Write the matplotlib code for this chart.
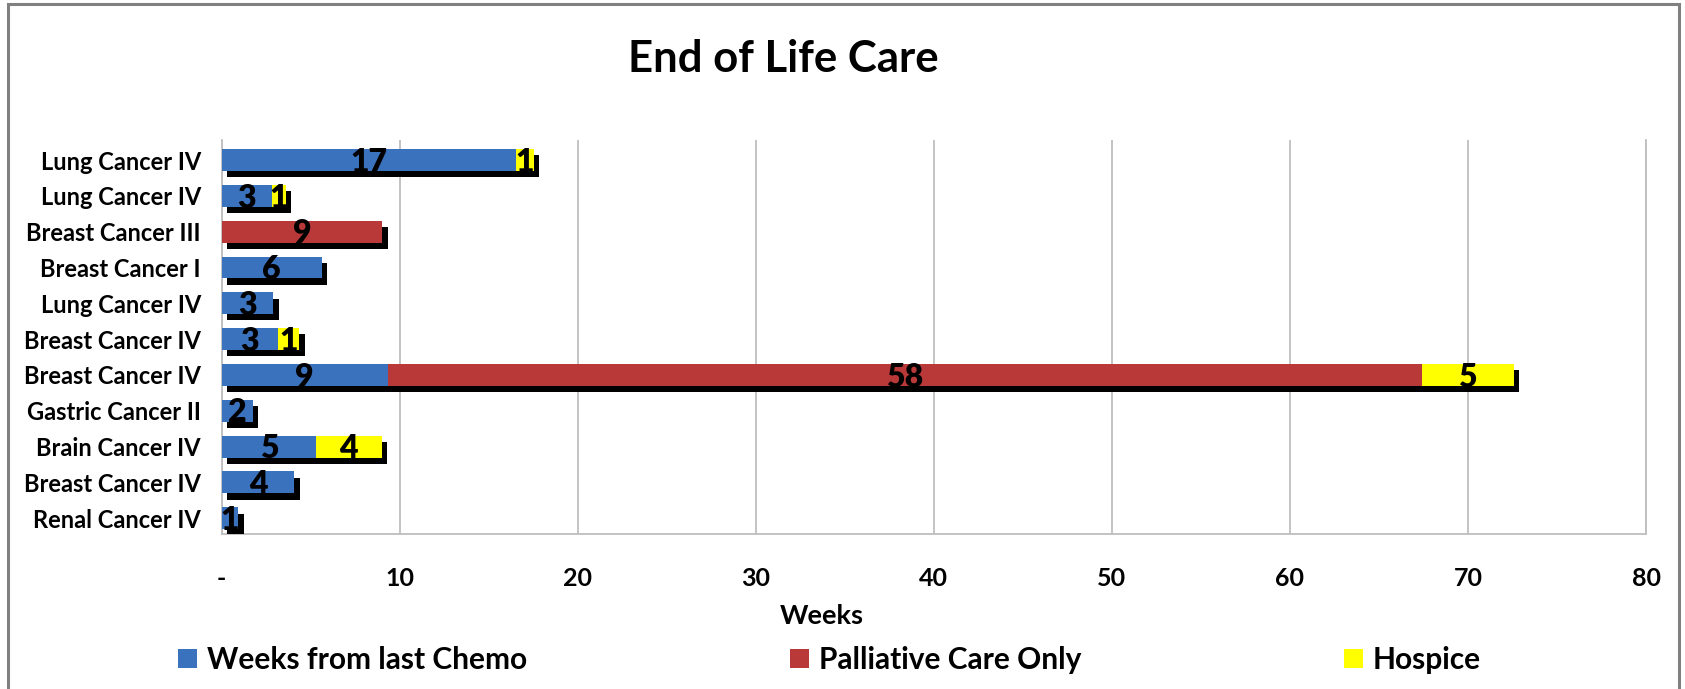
import numpy as np
import matplotlib
matplotlib.use("Agg")
import matplotlib.pyplot as plt
import matplotlib.patheffects as pe
from matplotlib.patches import Rectangle

plt.rcParams['font.family'] = ['Lato', 'DejaVu Sans']
plt.rcParams['font.weight'] = 'bold'

# patients, top to bottom
patients = ["Lung Cancer IV", "Lung Cancer IV", "Breast Cancer III", "Breast Cancer I",
            "Lung Cancer IV", "Breast Cancer IV", "Breast Cancer IV", "Gastric Cancer II",
            "Brain Cancer IV", "Breast Cancer IV", "Renal Cancer IV"]
chemo_weeks = [16.55, 2.83, 0, 5.61, 2.89, 3.14, 9.33, 1.74, 5.29, 4.07, 0.91]
palliative_weeks = [0, 0, 9.02, 0, 0, 0, 58.07, 0, 0, 0, 0]
hospice_weeks = [0.98, 0.77, 0, 0, 0, 1.21, 5.17, 0, 3.70, 0, 0]

series_names = ["Weeks from last Chemo", "Palliative Care Only", "Hospice"]
series_colors = ["#3B72BE", "#B93838", "#FFFF00"]
x_ticks = [0, 10, 20, 30, 40, 50, 60, 70, 80]
x_tick_labels = ["-", "10", "20", "30", "40", "50", "60", "70", "80"]

fig = plt.figure(figsize=(16.85, 6.89), dpi=100)
ax = fig.add_axes([0.1316, 0.2250, 0.9769 - 0.1316, 0.7968 - 0.2250])

y = np.arange(len(patients))
shadow = [pe.SimplePatchShadow(offset=(4, -4.5), shadow_rgbFace='black', alpha=1.0), pe.Normal()]

left = np.zeros(len(patients))
for vals, color in zip([chemo_weeks, palliative_weeks, hospice_weeks], series_colors):
    vals = np.array(vals)
    bars = ax.barh(y, vals, left=left, height=0.61, color=color, linewidth=0, zorder=3)
    for b, v in zip(bars, vals):
        b.set_path_effects(shadow)
        if v > 0:
            ax.text(b.get_x() + v / 2, b.get_y() + b.get_height() / 2 + 0.06, f"{v:.0f}",
                    ha='center', va='center', fontsize=23, fontweight='heavy', color='black', zorder=5)
    left = left + vals

ax.set_xlim(0, 80)
ax.set_ylim(10.44, -0.56)
ax.set_yticks(y)
ax.set_yticklabels(patients, fontsize=17, fontweight='bold')
ax.set_xticks(x_ticks)
ax.set_xticklabels(x_tick_labels, fontsize=18, fontweight='bold')
ax.tick_params(axis='both', length=0)
ax.tick_params(axis='x', pad=24)
ax.tick_params(axis='y', pad=15)
ax.grid(axis='x', color='#BEBEBE', linewidth=1.3, zorder=0)
ax.set_axisbelow(True)
ax.spines['top'].set_visible(False)
for s in ['left', 'bottom', 'right']:
    ax.spines[s].set_color('#BEBEBE')
    ax.spines[s].set_linewidth(1.3)

fig.text(822 / 1685, 1 - 616 / 689, "Weeks", ha='center', va='center', fontsize=19.5, fontweight='bold')
fig.text(783 / 1685, 1 - 59 / 689, "End of Life Care", ha='center', va='center', fontsize=31.5, fontweight='bold')

handles = [Rectangle((0, 0), 1, 1, facecolor=c, linewidth=0) for c in series_colors]
fig.legend(handles, series_names, ncol=3, loc='center left', bbox_to_anchor=(178 / 1685, 1 - 660 / 689),
           frameon=False, borderpad=0, borderaxespad=0, prop={'weight': 'bold', 'size': 21.5},
           handlelength=0.64, handleheight=0.64, handletextpad=0.33, columnspacing=8.8)

fig.add_artist(Rectangle((7.5 / 1685, -0.05), (1679 - 7.5) / 1685, 1.05 - 4 / 689, transform=fig.transFigure,
                         fill=False, edgecolor='#808080', linewidth=2.2))

fig.savefig("out.png", dpi=100)
